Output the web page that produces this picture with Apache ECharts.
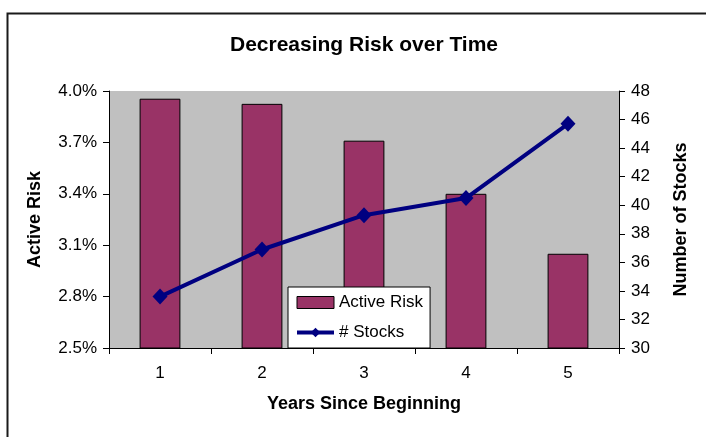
<!DOCTYPE html>
<html>
<head>
<meta charset="utf-8">
<script src="https://cdn.jsdelivr.net/npm/echarts@6/dist/echarts.min.js"></script>
<style>
  html, body { margin: 0; padding: 0; background: #ffffff; }
  #chart { width: 706px; height: 437px; }
</style>
</head>
<body>
<div id="chart"></div>
<script>
// Years on the horizontal axis
const years = ['1', '2', '3', '4', '5'];
// Active risk per year, in percent
const activeRisk = [3.955, 3.925, 3.71, 3.40, 3.05];
// Number of stocks held per year
const numStocks = [33.6, 36.9, 39.3, 40.5, 45.7];

const FONT = 'Liberation Sans, Arial, sans-serif';

const chart = echarts.init(document.getElementById('chart'), null, { renderer: 'canvas' });

chart.setOption({
  animation: false,
  backgroundColor: '#ffffff',
  textStyle: { fontFamily: FONT, color: '#000000' },
  title: {
    text: 'Decreasing Risk over Time',
    left: 359,
    textAlign: 'center',
    top: 30,
    textStyle: { fontFamily: FONT, fontSize: 21, fontWeight: 'bold', color: '#000000' }
  },
  graphic: [{
    type: 'rect',
    shape: { x: 7.5, y: 13.5, width: 720, height: 440 },
    style: { fill: 'none', stroke: '#1a1a1a', lineWidth: 2 },
    silent: true,
    z: 100
  }],
  legend: {
    orient: 'vertical',
    left: 288,
    top: 287,
    backgroundColor: '#ffffff',
    borderColor: '#000000',
    borderWidth: 1,
    padding: [7, 7, 7, 7],
    itemGap: 13,
    itemWidth: 37,
    itemHeight: 12,
    textStyle: { fontFamily: FONT, fontSize: 17, color: '#000000', lineHeight: 17 },
    data: [
      { name: 'Active Risk', icon: 'rect', itemStyle: { borderWidth: 1, borderColor: '#000000' } },
      { name: '# Stocks', lineStyle: { width: 4, color: '#000080' } }
    ],
    z: 10
  },
  grid: {
    left: 109,
    right: 87,
    top: 91,
    bottom: 89,
    show: true,
    backgroundColor: '#c0c0c0',
    borderWidth: 0
  },
  xAxis: {
    type: 'category',
    data: years,
    boundaryGap: true,
    name: 'Years Since Beginning',
    nameLocation: 'middle',
    nameGap: 47,
    nameTextStyle: { fontFamily: FONT, fontSize: 18, fontWeight: 'bold', color: '#000000' },
    axisLine: { lineStyle: { color: '#000000', width: 1 } },
    axisTick: { show: true, length: 6, lineStyle: { color: '#000000' } },
    axisLabel: { fontFamily: FONT, fontSize: 17, color: '#000000', margin: 17 },
    splitLine: { show: false }
  },
  yAxis: [{
    type: 'value',
    min: 2.5,
    max: 4.0,
    interval: 0.3,
    position: 'left',
    name: 'Active Risk',
    nameLocation: 'middle',
    nameRotate: 90,
    nameGap: 65,
    nameTextStyle: { fontFamily: FONT, fontSize: 18, fontWeight: 'bold', color: '#000000' },
    axisLine: { show: true, lineStyle: { color: '#000000', width: 1 } },
    axisTick: { show: true, length: 6, lineStyle: { color: '#000000' } },
    axisLabel: {
      fontFamily: FONT, fontSize: 17, color: '#000000', margin: 12,
      formatter: v => v.toFixed(1) + '%'
    },
    splitLine: { show: false }
  }, {
    type: 'value',
    min: 30,
    max: 48,
    interval: 2,
    position: 'right',
    name: 'Number of Stocks',
    nameLocation: 'middle',
    nameRotate: 90,
    nameGap: 53,
    nameTextStyle: { fontFamily: FONT, fontSize: 18, fontWeight: 'bold', color: '#000000' },
    axisLine: { show: true, lineStyle: { color: '#000000', width: 1 } },
    axisTick: { show: true, length: 6, lineStyle: { color: '#000000' } },
    axisLabel: { fontFamily: FONT, fontSize: 17, color: '#000000', margin: 12 },
    splitLine: { show: false }
  }],
  series: [{
    name: 'Active Risk',
    type: 'bar',
    yAxisIndex: 0,
    data: activeRisk,
    barWidth: '40%',
    itemStyle: { color: '#993366', borderColor: '#000000', borderWidth: 1 }
  }, {
    name: '# Stocks',
    type: 'line',
    yAxisIndex: 1,
    data: numStocks,
    symbol: 'diamond',
    symbolSize: [15, 16],
    lineStyle: { color: '#000080', width: 4 },
    itemStyle: { color: '#000080' },
    z: 5
  }]
});
</script>
</body>
</html>
